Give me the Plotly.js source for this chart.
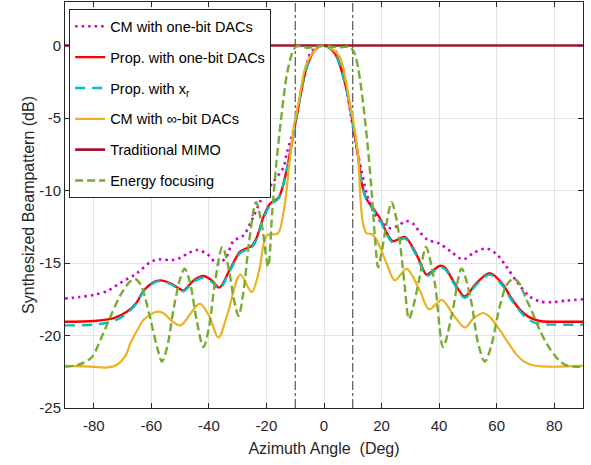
<!DOCTYPE html>
<html>
<head>
<meta charset="utf-8">
<script src="https://cdn.plot.ly/plotly-3.0.1.min.js"></script>
<style>html,body{margin:0;padding:0;background:#fff;}#chart{width:591px;height:465px;}</style>
</head>
<body>
<div id="chart"></div>
<script>
// ---- data (angle in degrees, pattern in dB) ----
const seriesNames = ["CM with one-bit DACs", "Prop. with one-bit DACs", "Prop. with x<sub>r</sub>",
  "CM with \u221E-bit DACs", "Traditional MIMO", "Energy focusing"];

const cmOneBitAngle = [-90,-85,-80,-75,-71,-65,-60,-57,-53,-50,-47,-44,-40.5,-37,-34,-31.5,-28,-24.5,-21,-17.6,-14.1,-12.9,-10.6,-7.2,-4.3,0,4,6.7,9.6,11.5,13,14.8,17,20,23,26,28.5,31,33,36,40,44,48.3,52,56.4,60,63.4,67,71.4,75,79,84,90];
const cmOneBitDb    = [-17.45,-17.35,-17.2,-16.9,-16.4,-15.7,-14.9,-14.75,-14.8,-14.65,-14.3,-14.1,-14.4,-15.05,-14.6,-13.5,-13.1,-11.8,-10.3,-9.4,-8.4,-7.4,-5.8,-2.4,-0.4,0,-0.4,-1.9,-5.1,-7.2,-8.6,-10.2,-11.4,-12.2,-12.6,-12.4,-12.1,-12.3,-12.8,-13.4,-13.65,-14.2,-14.75,-14.3,-14.0,-14.4,-15.25,-16.3,-17.3,-17.65,-17.7,-17.6,-17.5];

const propOneBitAngle = [-90,-80,-73,-68.4,-65,-62.7,-59,-56.9,-53.4,-50,-48.8,-45.3,-41.9,-39,-36.4,-32.6,-29.1,-27,-25,-23.3,-21,-18.7,-15.8,-13.5,-11.8,-9.5,-6,-3.1,0,3.8,7.9,10.2,11.9,13.1,14.8,17,19.4,22,24,26,28.1,31.6,33.5,35.6,38,40.2,42,44.8,48.9,52.9,57.6,62.2,65,68,71,74.9,80,90];
const propOneBitDb    = [-19.05,-19.0,-18.8,-18.35,-17.7,-16.9,-16.3,-16.2,-16.4,-16.8,-16.9,-16.2,-15.9,-16.2,-16.7,-15.4,-14.2,-14.0,-13.8,-13.2,-11.8,-10.9,-10.5,-9.05,-7.4,-4.9,-1.5,-0.3,0,-0.55,-3.1,-5.6,-7.7,-9.5,-10.6,-11.2,-11.9,-13.0,-13.5,-13.35,-13.2,-14.2,-15.0,-15.8,-15.5,-15.2,-15.3,-16.2,-17.3,-16.4,-15.7,-16.5,-17.4,-18.2,-18.7,-19.0,-19.05,-19.05];

const propXrAngle = [-90,-80,-73,-68.4,-65,-62.7,-59,-56.9,-53.4,-50,-48.8,-45.3,-41.9,-39,-36.4,-32.6,-29.1,-27,-25,-23.3,-21,-18.7,-15.8,-13.5,-11.8,-9.5,-6,-3.1,0,3.8,7.9,10.2,11.9,13.1,14.8,17,19.4,22,24,26,28.1,31.6,33.5,35.6,38,40.2,42,44.8,48.9,52.9,57.6,62.2,65,68,71,74.9,80,90];
const propXrDb    = [-19.3,-19.25,-19.0,-18.45,-17.75,-16.95,-16.35,-16.25,-16.45,-16.85,-16.95,-16.3,-16.0,-16.3,-16.8,-15.5,-14.3,-14.1,-13.9,-13.3,-11.9,-11.0,-10.55,-9.1,-7.4,-4.9,-1.5,-0.3,0,-0.55,-3.1,-5.6,-7.7,-9.5,-10.65,-11.3,-12.0,-13.1,-13.6,-13.45,-13.3,-14.3,-15.1,-15.9,-15.6,-15.3,-15.4,-16.3,-17.4,-16.5,-15.8,-16.6,-17.5,-18.3,-18.9,-19.2,-19.25,-19.25];

const cmInfBitAngle = [-90,-81,-75,-71.8,-69,-67.2,-64.5,-62.6,-58,-55.5,-53.4,-49.9,-46.4,-43.2,-40,-36.7,-33.5,-29.1,-25.1,-22.5,-19.9,-16.4,-15.5,-13.5,-12.3,-10.4,-8.9,-6.5,-4.9,-2.5,0,2.5,5.5,9,10.4,11.9,12.5,13.5,14.8,16.5,18,21.7,24.6,28.7,33.3,36.5,41,45,48.9,52,55.5,58,61,64,66.8,69.5,72.6,78,90];
const cmInfBitDb    = [-22.1,-22.15,-22.2,-22.0,-21.4,-20.5,-19.5,-18.9,-18.35,-18.5,-18.9,-19.3,-18.5,-17.8,-18.6,-20.15,-18.5,-15.8,-17.0,-15.5,-13.1,-13.0,-12.8,-10.8,-8.6,-5.5,-4.0,-1.5,-0.8,-0.2,0,-0.2,-0.8,-4.0,-5.5,-7.7,-10.0,-12.2,-12.95,-13.0,-13.3,-15.0,-16.2,-15.4,-16.9,-18.2,-17.55,-18.6,-19.45,-18.8,-18.45,-18.8,-19.6,-20.5,-21.3,-21.8,-22.05,-22.15,-22.1];

const mimoAngle = [-90, 90];
const mimoDb    = [0, 0];

const energyAngle = [-90,-85,-80.7,-77.7,-74.2,-70.7,-67.5,-65.6,-63.7,-62,-60.3,-58,-56.3,-54.5,-52.3,-50,-48.4,-46.5,-44.2,-41.9,-40,-38,-35.3,-33,-31.5,-29.7,-28,-26,-23.6,-21.5,-19.4,-18,-16.5,-14.7,-12.9,-11,-9.5,-6,-3,0,3,6,9,10.5,11.8,13.6,15.4,16.6,17.8,18.8,20,21.7,23.5,25,26.4,28,29.5,31,33.3,35.4,38.5,41.4,44.5,47.8,51,53.5,55.9,58,61,63.5,65.7,67.5,70.3,72.6,74.9,77.5,80.7,84,90];
const energyDb    = [-22.15,-22.0,-21.5,-20.3,-18.7,-17.2,-16.3,-16.1,-16.5,-17.5,-18.9,-20.8,-21.8,-20.8,-18.2,-16.1,-15.4,-16.4,-19.0,-20.8,-19.5,-16.5,-13.9,-15.5,-17.3,-18.65,-17.0,-13.5,-10.8,-12.5,-15.25,-11.5,-8.0,-4.7,-2.0,-0.5,-0.05,-0.15,-0.1,0,-0.1,-0.12,-0.1,-0.5,-1.5,-4.0,-7.4,-10.2,-13.5,-15.3,-14.3,-12.3,-10.8,-11.8,-13.6,-16.5,-18.85,-18.0,-15.9,-13.9,-16.4,-20.8,-18.5,-15.4,-17.5,-20.5,-21.8,-20.8,-18.05,-16.5,-16.1,-16.3,-17.5,-18.5,-19.6,-20.6,-21.5,-22.05,-22.15];

const markerAngles = [-10, 10];   // dash-dot reference lines
const xTicks = [-80,-60,-40,-20,0,20,40,60,80];
const yTicks = [-25,-20,-15,-10,-5,0];

// ---- traces ----
function curve(name, x, y, color, width, dash, group) {
  return {x: x, y: y, name: name, type: 'scatter', mode: 'lines', legendgroup: group,
          line: {color: color, width: width, dash: dash, shape: 'spline', smoothing: 0.9}};
}
const traces = [
  curve(seriesNames[0], cmOneBitAngle, cmOneBitDb, '#CC00CC', 2.6, '2.5px,4px', 'g1'),
  curve(seriesNames[1], propOneBitAngle, propOneBitDb, '#FF0000', 2.4, 'solid', 'g2'),
  curve(seriesNames[2], propXrAngle, propXrDb, '#00BFBF', 2.4, '10px,7px', 'g3'),
  curve(seriesNames[3], cmInfBitAngle, cmInfBitDb, '#EDB120', 2.2, 'solid', 'g4'),
  {x: mimoAngle, y: mimoDb, name: seriesNames[4], type: 'scatter', mode: 'lines', legendgroup: 'g5',
   line: {color: '#A2142F', width: 2.6}},
  curve(seriesNames[5], energyAngle, energyDb, '#77AC30', 2.4, '8px,4px', 'g6')
];
markerAngles.forEach(function(a){
  traces.push({x: [a, a], y: [-25, 3], type: 'scatter', mode: 'lines', showlegend: false, hoverinfo: 'skip',
    line: {color: '#333333', width: 1, dash: 'dashdot'}});
});
// keep reference lines under the curves
const ordered = traces.slice(6).concat(traces.slice(0, 6));

const FONT = 'Liberation Sans, Arial, sans-serif';
const axisCommon = {
  showline: true, mirror: 'ticks', linecolor: '#262626', linewidth: 1,
  ticks: 'inside', ticklen: 5, tickcolor: '#262626',
  showgrid: true, gridcolor: '#e3e3e3', gridwidth: 1, zeroline: false,
  tickfont: {family: FONT, size: 15, color: '#262626'}
};

const layout = {
  width: 591, height: 465,
  margin: {l: 65, r: 8, t: 2, b: 57},
  paper_bgcolor: '#ffffff', plot_bgcolor: '#ffffff',
  font: {family: FONT, color: '#262626'},
  xaxis: Object.assign({}, axisCommon, {
    range: [-90, 90], tickmode: 'array', tickvals: xTicks, ticktext: xTicks.map(String),
    ticklabelstandoff: 4,
    title: {text: 'Azimuth Angle\u00A0\u00A0(Deg)', font: {size: 16, color: '#262626'}, standoff: 9}
  }),
  yaxis: Object.assign({}, axisCommon, {
    range: [-25, 3], tickmode: 'array', tickvals: yTicks, ticktext: yTicks.map(String),
    title: {text: 'Synthesized Beampattern (dB)', font: {size: 16, color: '#262626'}, standoff: 0}
  }),
  showlegend: true,
  legend: {
    x: 0.008, y: 0.982, xanchor: 'left', yanchor: 'top',
    bgcolor: '#ffffff', bordercolor: '#262626', borderwidth: 1,
    font: {family: FONT, size: 14.5, color: '#000000'},
    tracegroupgap: 9, itemwidth: 30
  }
};

Plotly.newPlot('chart', ordered, layout, {displayModeBar: false, staticPlot: true});
</script>
</body>
</html>
